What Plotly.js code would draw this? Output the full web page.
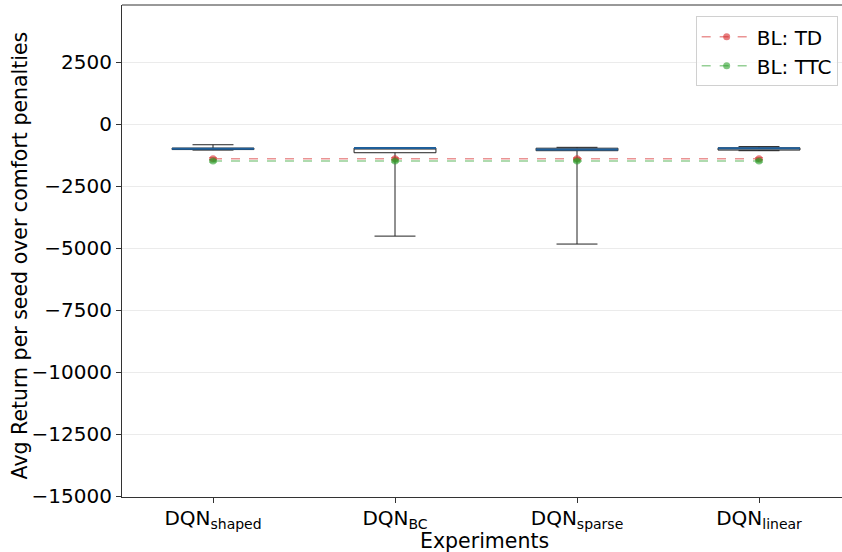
<!DOCTYPE html>
<html>
<head>
<meta charset="utf-8">
<script src="https://cdn.plot.ly/plotly-3.0.1.min.js"></script>
<style>html,body{margin:0;padding:0;background:#fff;}#chart{width:842px;height:552px;}</style>
</head>
<body>
<div id="chart"></div>
<script>
// Categories (tick labels)
const categories = ['DQN<sub>shaped</sub>', 'DQN<sub>BC</sub>', 'DQN<sub>sparse</sub>', 'DQN<sub>linear</sub>'];
// Box statistics per experiment
const lowerWhisker = [-1050, -4520, -4840, -1075];
const q1Vals       = [-1030, -1157, -1075, -1050];
const medianVals   = [-1000, -968, -1030, -980];
const q3Vals       = [-970, -968, -975, -960];
const upperWhisker = [-835, -950, -940, -910];
// Baselines
const tdVals  = [-1400, -1400, -1400, -1400];
const tdErr   = [45, 45, 45, 45];
const ttcVals = [-1490, -1490, -1490, -1490];
const ttcErr  = [40, 40, 40, 40];
// Axis ticks
const yTicks = [2500, 0, -2500, -5000, -7500, -10000, -12500, -15000];
const yTickText = ['2500', '0', '\u22122500', '\u22125000', '\u22127500', '\u221210000', '\u221212500', '\u221215000'];
const xTitle = 'Experiments';
const yTitle = 'Avg Return per seed over comfort penalties';

const font = {family: 'DejaVu Sans, sans-serif', color: '#000'};

const traces = [
  {
    type: 'box', x: categories, q1: q1Vals, median: medianVals, q3: q3Vals,
    lowerfence: lowerWhisker, upperfence: upperWhisker,
    width: 0.45, whiskerwidth: 0.5, fillcolor: '#ffffff',
    line: {color: '#222', width: 1}, showlegend: false, hoverinfo: 'skip'
  },
  {
    type: 'box', x: categories, q1: medianVals, median: medianVals, q3: medianVals,
    lowerfence: medianVals, upperfence: medianVals,
    width: 0.45, whiskerwidth: 0, fillcolor: 'rgba(0,0,0,0)',
    line: {color: '#1f5f9a', width: 2}, showlegend: false, hoverinfo: 'skip'
  },
  {
    type: 'scatter', mode: 'lines+markers', name: 'BL: TD', x: categories, y: tdVals,
    line: {color: 'rgba(214,39,40,0.5)', dash: 'dash', width: 1.5},
    marker: {color: 'rgba(214,39,40,0.6)', size: 7},
    error_y: {type: 'data', array: tdErr, visible: true, color: 'rgba(214,39,40,0.5)', thickness: 1.5, width: 4}
  },
  {
    type: 'scatter', mode: 'lines+markers', name: 'BL: TTC', x: categories, y: ttcVals,
    line: {color: 'rgba(44,160,44,0.5)', dash: 'dash', width: 1.5},
    marker: {color: 'rgba(44,160,44,0.6)', size: 7},
    error_y: {type: 'data', array: ttcErr, visible: true, color: 'rgba(44,160,44,0.5)', thickness: 1.5, width: 4}
  }
];

const layout = {
  width: 842, height: 552,
  margin: {l: 122, r: 0, t: 5, b: 55},
  paper_bgcolor: '#fff', plot_bgcolor: '#fff',
  font: Object.assign({size: 20}, font),
  boxmode: 'overlay',
  showlegend: true,
  legend: {
    x: 0.994, y: 0.977, xanchor: 'right', yanchor: 'top',
    bgcolor: 'rgba(255,255,255,0.8)', bordercolor: '#d0d0d0', borderwidth: 1,
    font: Object.assign({size: 20}, font), itemwidth: 50
  },
  xaxis: {
    type: 'category', range: [-0.5, 3.456],
    showgrid: false, zeroline: false, automargin: false,
    showline: true, linecolor: '#333', linewidth: 1,
    ticks: 'outside', ticklen: 5, tickcolor: '#333', ticklabelstandoff: -2,
    tickfont: Object.assign({size: 20}, font)
  },
  yaxis: {
    range: [-15040, 4800], automargin: false,
    tickvals: yTicks, ticktext: yTickText,
    showgrid: true, gridcolor: '#ebebeb', gridwidth: 1, zeroline: false,
    showline: true, linecolor: '#333', linewidth: 1,
    ticks: 'outside', ticklen: 5, tickcolor: '#333',
    tickfont: Object.assign({size: 20}, font)
  },
  annotations: [
    {text: xTitle, xref: 'paper', yref: 'paper', x: 0.503, y: -0.089, xanchor: 'center', yanchor: 'middle',
     showarrow: false, font: Object.assign({size: 20.5}, font)},
    {text: yTitle, xref: 'paper', yref: 'paper', x: -0.1417, y: 0.491, xanchor: 'center', yanchor: 'middle',
     textangle: -90, showarrow: false, font: Object.assign({size: 20.5}, font)}
  ],
  shapes: [
    {type: 'line', xref: 'paper', yref: 'paper', x0: 0, x1: 1, y0: 1, y1: 1, line: {color: '#333', width: 1}}
  ]
};

Plotly.newPlot('chart', traces, layout, {displayModeBar: false, staticPlot: true});
</script>
</body>
</html>
